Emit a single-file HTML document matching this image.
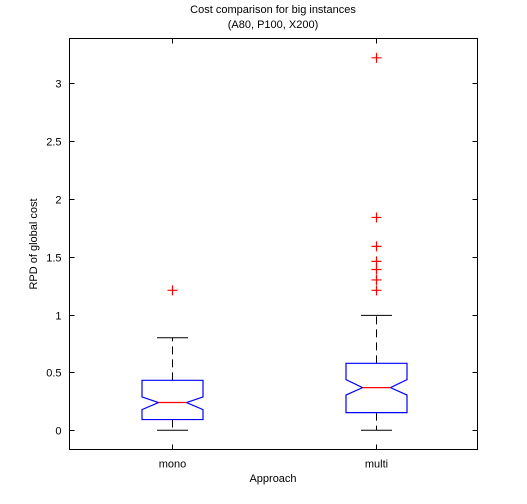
<!DOCTYPE html>
<html><head><meta charset="utf-8"><style>
body{margin:0;background:#fff;}
svg{display:block;font-family:"Liberation Sans",sans-serif;}
</style></head><body>
<svg id="chart" width="527" height="504" xmlns="http://www.w3.org/2000/svg">
<rect x="0" y="0" width="527" height="504" fill="#fff"/>
<text x="273" y="13" font-size="11" text-anchor="middle">Cost comparison for big instances</text>
<text x="273" y="28" font-size="11" text-anchor="middle">(A80, P100, X200)</text>
<text transform="translate(37,244) rotate(-90)" font-size="11" text-anchor="middle">RPD of global cost</text>
<text x="273" y="482" font-size="11" text-anchor="middle">Approach</text>
<g id="plot"></g>
<rect x="69.5" y="38.5" width="408" height="411" fill="none" stroke="#000" stroke-width="1"/>
</svg>
<script>
const categories = ["mono", "multi"];
const q1 = [0.093, 0.153];
const q3 = [0.432, 0.579];
const medians = [0.24, 0.369];
const notchLo = [0.179, 0.305];
const notchHi = [0.288, 0.438];
const whiskerLo = [0, 0];
const whiskerHi = [0.80, 0.994];
const outliersMono = [1.21];
const outliersMulti = [3.22, 1.84, 1.59, 1.46, 1.39, 1.30, 1.21];
const yTicks = [0, 0.5, 1, 1.5, 2, 2.5, 3];
const yTickLabels = ["0", "0.5", "1", "1.5", "2", "2.5", "3"];

const L=69.5,R=477.5,T=38.5,B=449.5;
const yMin=-0.166, yMax=3.387;
const y = v => B - (v - yMin)/(yMax - yMin)*(B - T);
const x = i => L + (i + 0.5)*(R - L)/categories.length;
const NS="http://www.w3.org/2000/svg";
const g=document.getElementById('plot');
function mk(tag, attrs){const e=document.createElementNS(NS,tag);for(const k in attrs)e.setAttribute(k,attrs[k]);g.appendChild(e);return e;}

yTicks.forEach((t,i)=>{
  const yy=Math.round(y(t))+0.5;
  const a=mk('line',{x1:L,x2:L+5,y1:yy,y2:yy,stroke:'#000'});
  
  
  const b=mk('line',{x1:R-5,x2:R,y1:yy,y2:yy,stroke:'#000'});
  
  
  const tx=mk('text',{x:L-8,y:yy+4,'font-size':11,'text-anchor':'end'});
  tx.textContent=yTickLabels[i];
  
  
});
const outs=[outliersMono,outliersMulti];
categories.forEach((c,i)=>{
  const cx=Math.round(x(i))+0.5, hw=30.5, nw=16.5, cap=15.5;
  const tk=mk('line',{x1:cx,x2:cx,y1:B,y2:B-5,stroke:'#000'});
  
  
  const tk2=mk('line',{x1:cx,x2:cx,y1:T,y2:T+5,stroke:'#000'});
  
  
  const lb=mk('text',{x:cx,y:B+18,'font-size':11,'text-anchor':'middle'});
  lb.textContent=c;
  
  
  const w1=mk('line',{x1:cx,x2:cx,y1:y(q3[i]),y2:y(whiskerHi[i]),stroke:'#000','stroke-dasharray':'8,5'});
  
  
  const w2=mk('line',{x1:cx,x2:cx,y1:y(q1[i]),y2:y(whiskerLo[i]),stroke:'#000','stroke-dasharray':'8,5'});
  
  
  const c1=mk('line',{x1:cx-cap,x2:cx+cap,y1:y(whiskerHi[i]),y2:y(whiskerHi[i]),stroke:'#000'});
  
  
  const c2=mk('line',{x1:cx-cap,x2:cx+cap,y1:y(whiskerLo[i]),y2:y(whiskerLo[i]),stroke:'#000'});
  
  
  const pts=[[cx-hw,y(q1[i])],[cx+hw,y(q1[i])],[cx+hw,y(notchLo[i])],[cx+hw-nw,y(medians[i])],[cx+hw,y(notchHi[i])],[cx+hw,y(q3[i])],[cx-hw,y(q3[i])],[cx-hw,y(notchHi[i])],[cx-hw+nw,y(medians[i])],[cx-hw,y(notchLo[i])]];
  const bx=mk('polygon',{points:pts.map(p=>p.join(',')).join(' '),fill:'none',stroke:'#0000ff','stroke-width':1.2});
  
  
  const md=mk('line',{x1:cx-hw+nw,x2:cx+hw-nw,y1:y(medians[i]),y2:y(medians[i]),stroke:'#ff0000','stroke-width':1.2});
  
  
  outs[i].forEach(v=>{
    const yy=y(v);
    const o=mk('path',{d:`M${cx-5},${yy}H${cx+5}M${cx},${yy-5}V${yy+5}`,stroke:'#ff0000','stroke-width':1.2,fill:'none'});
    
    
  });
});
</script>
</body></html>
